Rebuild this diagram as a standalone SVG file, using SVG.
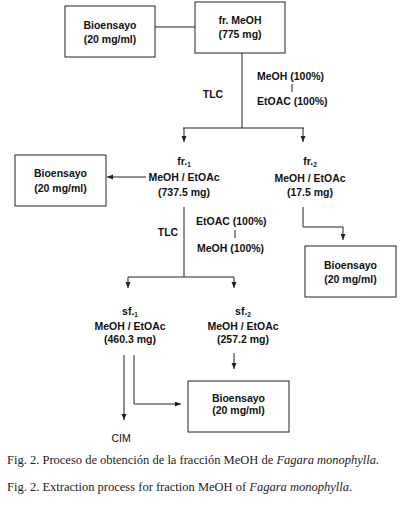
<svg xmlns="http://www.w3.org/2000/svg" width="400" height="505" viewBox="0 0 400 505">
<defs>
<style>
.box{fill:#fff;stroke:#222;stroke-width:1}
.t{font-family:"Liberation Sans",Arial,sans-serif;font-weight:bold;font-size:10.5px;fill:#111;text-anchor:middle}
.l{text-anchor:start}
.sub{font-size:6.5px}
.ln{fill:none;stroke:#222;stroke-width:1}
.cap{font-family:"Liberation Serif","Times New Roman",serif;font-size:12.5px;fill:#222}
</style>
<marker id="ah" markerUnits="userSpaceOnUse" markerWidth="7" markerHeight="6" refX="6" refY="2.5" orient="auto">
<path d="M0,0 L6,2.5 L0,5 z" fill="#222"/>
</marker>
</defs>
<rect width="400" height="505" fill="#fff"/>

<g id="connectors">
<path class="ln" d="M155,27 H195"/>
<path class="ln" d="M242,53 V128 M183,128 H304"/>
<path class="ln" d="M184,128 V142" marker-end="url(#ah)"/>
<path class="ln" d="M303,128 V142" marker-end="url(#ah)"/>
<path class="ln" d="M146,177 H107" marker-end="url(#ah)"/>
<path class="ln" d="M184,207 V277 M128,277 H234"/>
<path class="ln" d="M128,277 V288" marker-end="url(#ah)"/>
<path class="ln" d="M234,277 V288" marker-end="url(#ah)"/>
<path class="ln" d="M303,207 V227 H343 V240" marker-end="url(#ah)"/>
<path class="ln" d="M234,353 V369" marker-end="url(#ah)"/>
<path class="ln" d="M124,355 V420" marker-end="url(#ah)"/>
<path class="ln" d="M134,355 V404 H181" marker-end="url(#ah)"/>
<path class="ln" d="M292,84 V92"/>
<path class="ln" d="M235,230 V238"/>
</g>

<g id="bioensayo-top">
<rect class="box" x="65" y="6" width="90" height="51"/>
<text class="t" x="110" y="29">Bioensayo</text>
<text class="t" x="110" y="43">(20 mg/ml)</text>
</g>

<g id="fr-meoh">
<rect class="box" x="195" y="2" width="90" height="51"/>
<text class="t" x="240" y="24">fr. MeOH</text>
<text class="t" x="240" y="38">(775 mg)</text>
</g>

<g id="tlc1">
<text class="t" x="213" y="98">TLC</text>
<text class="t l" x="257" y="80">MeOH (100%)</text>
<text class="t l" x="257" y="105">EtOAC (100%)</text>
</g>

<g id="fr1">
<text class="t" x="184" y="165">fr.<tspan class="sub" dy="2">1</tspan></text>
<text class="t" x="184" y="181">MeOH / EtOAc</text>
<text class="t" x="184" y="196">(737.5 mg)</text>
</g>

<g id="bioensayo-fr1">
<rect class="box" x="15" y="155" width="91" height="51"/>
<text class="t" x="60.5" y="177">Bioensayo</text>
<text class="t" x="60.5" y="192">(20 mg/ml)</text>
</g>

<g id="fr2">
<text class="t" x="310" y="165">fr.<tspan class="sub" dy="2">2</tspan></text>
<text class="t" x="310" y="182">MeOH / EtOAc</text>
<text class="t" x="310" y="196">(17.5 mg)</text>
</g>

<g id="bioensayo-fr2">
<rect class="box" x="305" y="246" width="91" height="51"/>
<text class="t" x="350.5" y="269">Bioensayo</text>
<text class="t" x="350.5" y="283">(20 mg/ml)</text>
</g>

<g id="tlc2">
<text class="t" x="168" y="236">TLC</text>
<text class="t l" x="196" y="225">EtOAC (100%)</text>
<text class="t l" x="197" y="252">MeOH (100%)</text>
</g>

<g id="sf1">
<text class="t" x="130" y="315">sf.<tspan class="sub" dy="2">1</tspan></text>
<text class="t" x="130" y="330">MeOH / EtOAc</text>
<text class="t" x="130" y="343">(460.3 mg)</text>
</g>

<g id="sf2">
<text class="t" x="243" y="315">sf.<tspan class="sub" dy="2">2</tspan></text>
<text class="t" x="243" y="330">MeOH / EtOAc</text>
<text class="t" x="243" y="343">(257.2 mg)</text>
</g>

<g id="bioensayo-sf">
<rect class="box" x="188" y="381" width="101" height="51"/>
<text class="t" x="238.5" y="402">Bioensayo</text>
<text class="t" x="238.5" y="414">(20 mg/ml)</text>
</g>

<g id="cim">
<text class="t" x="121" y="442" style="font-weight:normal">CIM</text>
</g>

<g id="captions">
<text class="cap" x="7" y="464">Fig. 2. Proceso de obtención de la fracción MeOH de <tspan font-style="italic">Fagara monophylla.</tspan></text>
<text class="cap" x="7" y="491">Fig. 2. Extraction process for fraction MeOH of <tspan font-style="italic">Fagara monophylla</tspan>.</text>
</g>
</svg>
